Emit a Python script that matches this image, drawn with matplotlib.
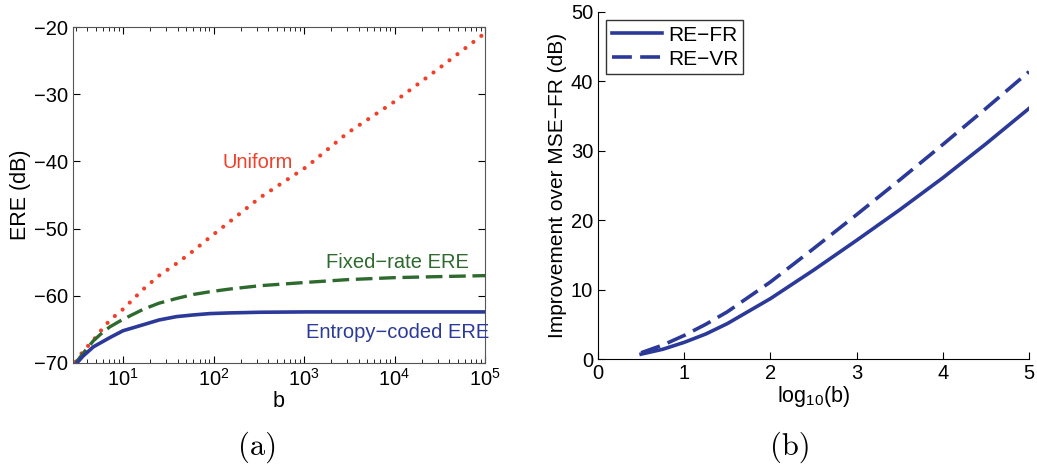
import matplotlib.pyplot as plt
import numpy as np

plt.rcParams['font.family'] = ['Liberation Sans', 'DejaVu Sans']
plt.rcParams['mathtext.fontset'] = 'custom'
plt.rcParams['mathtext.rm'] = 'Liberation Sans'
plt.rcParams['mathtext.it'] = 'Liberation Sans'

# panel (a): ERE vs b
b_vals = [3, 3.6, 4.7, 6, 7.2, 10, 16.8, 25, 39, 60, 91, 150, 325, 1070,
          3000, 1e4, 3e4, 1e5]
uniform = [-69.8, -68.3, -66.6, -64.8, -63.6, -62.0, -59.0, -57.0, -55.2,
           -53.3, -51.3, -49.0, -45.4, -40.8, -35.8, -31.1, -26.3, -20.9]
fixed_rate = [-70.0, -68.6, -66.7, -65.4, -64.6, -63.5, -62.0, -61.1, -60.4,
              -59.8, -59.4, -59.0, -58.5, -58.0, -57.6, -57.3, -57.15, -57.0]
entropy = [-70.2, -69.0, -67.6, -66.8, -66.2, -65.2, -64.3, -63.6, -63.1,
           -62.85, -62.65, -62.55, -62.45, -62.4, -62.4, -62.4, -62.4, -62.4]

# panel (b): improvement over MSE-FR
log_b = [0.5, 0.75, 1.0, 1.25, 1.5, 2.0, 2.5, 3.0, 3.5, 4.0, 4.5, 5.0]
re_fr = [0.7, 1.4, 2.4, 3.6, 5.1, 8.7, 12.8, 17.1, 21.5, 26.1, 31.0, 36.1]
re_vr = [0.9, 2.0, 3.4, 5.0, 6.8, 11.1, 15.9, 20.8, 25.8, 30.9, 36.1, 41.4]

blue = '#2b3a98'
green = '#2e6a2e'
red = '#f0402a'

fig = plt.figure(figsize=(10.37, 4.68), dpi=100)

ax1 = fig.add_axes([0.0704, 0.2244, 0.3973, 0.7179])
ax1.plot(b_vals, uniform, color=red, lw=3, linestyle=(0, (0.01, 2.4)),
         dash_capstyle='round')
ax1.plot(b_vals, fixed_rate, color=green, lw=2.4, linestyle=(0, (5, 2)))
ax1.plot(b_vals, entropy, color=blue, lw=2.6)
ax1.set_xscale('log')
ax1.set_xlim(2.8, 1e5)
ax1.set_ylim(-70, -20)
ax1.set_yticks([-70, -60, -50, -40, -30, -20])
ax1.set_yticklabels(['\u221270', '\u221260', '\u221250', '\u221240', '\u221230', '\u221220'])
ax1.set_xticks([10, 100, 1000, 1e4, 1e5])
ax1.tick_params(which='both', direction='in', top=True, right=True, labelsize=14.5)
ax1.tick_params(which='major', length=5)
ax1.tick_params(which='minor', length=3)
ax1.set_xlabel('b', fontsize=15.5, labelpad=1)
ax1.set_ylabel('ERE (dB)', fontsize=15.5, labelpad=2)
ax1.text(310, -40.2, 'Uniform', color=red, fontsize=14.5, ha='center', va='center')
ax1.text(1.07e4, -55.1, 'Fixed\u2212rate ERE', color=green, fontsize=14.5,
         ha='center', va='center')
ax1.text(1.07e4, -65.4, 'Entropy\u2212coded ERE', color=blue, fontsize=14.5,
         ha='center', va='center')
for s in ax1.spines.values():
    s.set_color('#555555')

ax2 = fig.add_axes([0.5767, 0.2329, 0.4156, 0.7415])
ax2.plot(log_b, re_fr, color=blue, lw=2.6, label='RE\u2212FR')
ax2.plot(log_b, re_vr, color=blue, lw=2.6, linestyle=(0, (5.5, 2.3)), label='RE\u2212VR')
ax2.set_xlim(0, 5)
ax2.set_ylim(0, 50)
ax2.spines['top'].set_visible(False)
ax2.spines['right'].set_visible(False)
ax2.tick_params(direction='in', length=5, labelsize=14.5)
ax2.set_xlabel(r'log$_{10}$(b)', fontsize=15.5, labelpad=1)
ax2.set_ylabel('Improvement over MSE\u2212FR (dB)', fontsize=15, labelpad=3)
leg = ax2.legend(loc='upper left', fontsize=15, fancybox=False, framealpha=1,
                 edgecolor='#333333', handlelength=2.4, borderpad=0.25,
                 labelspacing=0.25, handletextpad=0.3, borderaxespad=0.4)
leg.get_frame().set_linewidth(1.0)

fig.text(258 / 1037, 1 - 447 / 468, '(a)', family='cmr10', fontsize=22,
         ha='center', va='center')
fig.text(790 / 1037, 1 - 447 / 468, '(b)', family='cmr10', fontsize=22,
         ha='center', va='center')

fig.savefig('out.png', dpi=100)
